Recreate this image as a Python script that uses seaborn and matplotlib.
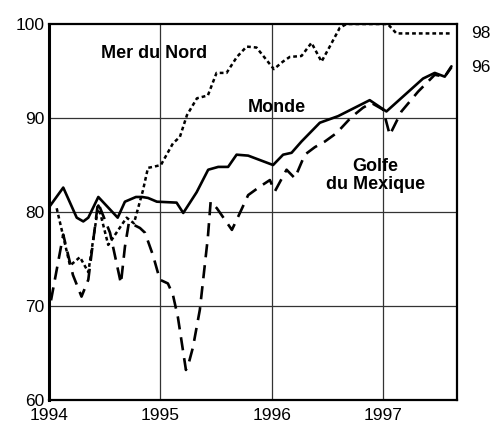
import numpy as np
import pandas as pd
import matplotlib
matplotlib.use('Agg')
import matplotlib.pyplot as plt
import matplotlib.transforms as mtransforms
import seaborn as sns

# Production index (decimal year / value)
monde_t = [1994.00, 1994.128, 1994.249, 1994.308, 1994.353, 1994.443, 1994.617,
           1994.682, 1994.781, 1994.835, 1994.889, 1994.969, 1995.146, 1995.206,
           1995.326, 1995.430, 1995.520, 1995.609, 1995.685, 1995.789, 1996.013,
           1996.103, 1996.179, 1996.268, 1996.433, 1996.597, 1996.881, 1997.031,
           1997.360, 1997.465, 1997.555, 1997.615]
monde_v = [80.5, 82.6, 79.4, 79.0, 79.4, 81.6, 79.4,
           81.1, 81.6, 81.6, 81.5, 81.1, 81.0, 79.9,
           82.1, 84.5, 84.8, 84.8, 86.1, 86.0, 85.0,
           86.1, 86.3, 87.5, 89.5, 90.2, 91.9, 90.7,
           94.2, 94.8, 94.4, 95.5]

nord_t = [1994.069, 1994.189, 1994.278, 1994.353, 1994.443, 1994.532, 1994.697,
          1994.763, 1994.844, 1994.889, 1994.934, 1995.005, 1995.113, 1995.176,
          1995.239, 1995.329, 1995.427, 1995.505, 1995.595, 1995.688, 1995.775,
          1995.864, 1996.020, 1996.101, 1996.163, 1996.268, 1996.358, 1996.448,
          1996.522, 1996.612, 1996.672, 1997.043, 1997.121, 1997.615]
nord_v = [80.4, 74.3, 75.2, 73.6, 80.7, 76.5, 79.4,
          78.8, 82.3, 84.7, 84.8, 85.0, 87.3, 88.0,
          90.3, 92.1, 92.4, 94.8, 94.8, 96.5, 97.6,
          97.5, 95.2, 96.0, 96.5, 96.6, 98.0, 96.0,
          97.6, 99.6, 100.0, 100.0, 99.0, 99.0]

golfe_t = [1994.018, 1994.128, 1994.215, 1994.292, 1994.353, 1994.440, 1994.548,
           1994.646, 1994.682, 1994.718, 1994.817, 1994.862, 1994.934, 1994.996,
           1995.068, 1995.113, 1995.158, 1995.203, 1995.230, 1995.257, 1995.293,
           1995.355, 1995.427, 1995.452, 1995.508, 1995.643, 1995.699, 1995.789,
           1995.894, 1995.984, 1996.029, 1996.134, 1996.208, 1996.298, 1996.388,
           1996.478, 1996.583, 1996.717, 1996.821, 1996.897, 1997.001, 1997.061,
           1997.166, 1997.315, 1997.465, 1997.555, 1997.615]
golfe_v = [70.6, 77.6, 73.3, 71.0, 72.8, 81.0, 77.8,
           72.4, 76.3, 78.9, 78.3, 77.8, 75.4, 72.8,
           72.4, 71.2, 68.8, 65.3, 63.2, 64.0, 65.6,
           69.6, 77.3, 81.1, 80.4, 78.1, 79.5, 81.8,
           82.7, 83.4, 82.2, 84.5, 83.6, 86.1, 86.9,
           87.5, 88.4, 90.1, 91.1, 91.6, 90.9, 88.2,
           90.7, 92.8, 94.6, 94.4, 95.4]

year_ticks = [1994, 1995, 1996, 1997]
value_ticks = [60, 70, 80, 90, 100]
end_labels = ['98', '96']

sns.set_style('white')
plt.rcParams['font.family'] = ['Liberation Sans', 'DejaVu Sans']
plt.rcParams['text.color'] = 'black'

fig = plt.figure(figsize=(4.97, 4.26), dpi=100)
ax = fig.add_axes([0.0986, 0.061, 0.8209, 0.8826])

for v in year_ticks[1:]:
    ax.axvline(v, color='#333333', lw=0.9, zorder=1)
for v in value_ticks[1:-1]:
    ax.axhline(v, color='#333333', lw=0.9, zorder=1)

df_m = pd.DataFrame({'t': monde_t, 'v': monde_v})
df_n = pd.DataFrame({'t': nord_t, 'v': nord_v})
df_g = pd.DataFrame({'t': golfe_t, 'v': golfe_v})

sns.lineplot(data=df_n, x='t', y='v', ax=ax, color='black', lw=1.8,
             linestyle=(0, (1.5, 1.2)), estimator=None, sort=False, zorder=3)
sns.lineplot(data=df_g, x='t', y='v', ax=ax, color='black', lw=1.9,
             linestyle=(0, (5, 3)), estimator=None, sort=False, zorder=3)
sns.lineplot(data=df_m, x='t', y='v', ax=ax, color='black', lw=1.9,
             estimator=None, sort=False, zorder=4)

ax.set_xlim(1994, 1997.665)
ax.set_ylim(60, 100)
ax.set_xticks(year_ticks)
ax.set_yticks(value_ticks)
ax.set_xticklabels([str(y) for y in year_ticks])
ax.tick_params(axis='both', length=0, labelsize=12.5, colors='black')
ax.tick_params(axis='y', pad=3)
ax.tick_params(axis='x', pad=6)
ax.set_xlabel('')
ax.set_ylabel('')

for side in ['top', 'right', 'bottom']:
    ax.spines[side].set_linewidth(1.6)
    ax.spines[side].set_color('black')
ax.spines['left'].set_linewidth(2.2)
ax.spines['left'].set_color('black')

ax.text(1994.94, 96.9, 'Mer du Nord', fontsize=13, fontweight='bold',
        ha='center', va='center', color='black')
ax.text(1996.05, 91.1, 'Monde', fontsize=13, fontweight='bold',
        ha='center', va='center', color='black')
ax.text(1996.93, 83.9, 'Golfe\ndu Mexique', fontsize=13, fontweight='bold',
        ha='center', va='center', linespacing=1.1, color='black')

# labels at the right of the frame, level with the line ends
trans = mtransforms.blended_transform_factory(ax.transAxes, ax.transData)
ax.text(1.035, nord_v[-1], end_labels[0], transform=trans, fontsize=12.5,
        ha='left', va='center', color='black')
ax.text(1.035, golfe_v[-1], end_labels[1], transform=trans, fontsize=12.5,
        ha='left', va='center', color='black')

plt.savefig('out.png', dpi=100)
plt.close()
